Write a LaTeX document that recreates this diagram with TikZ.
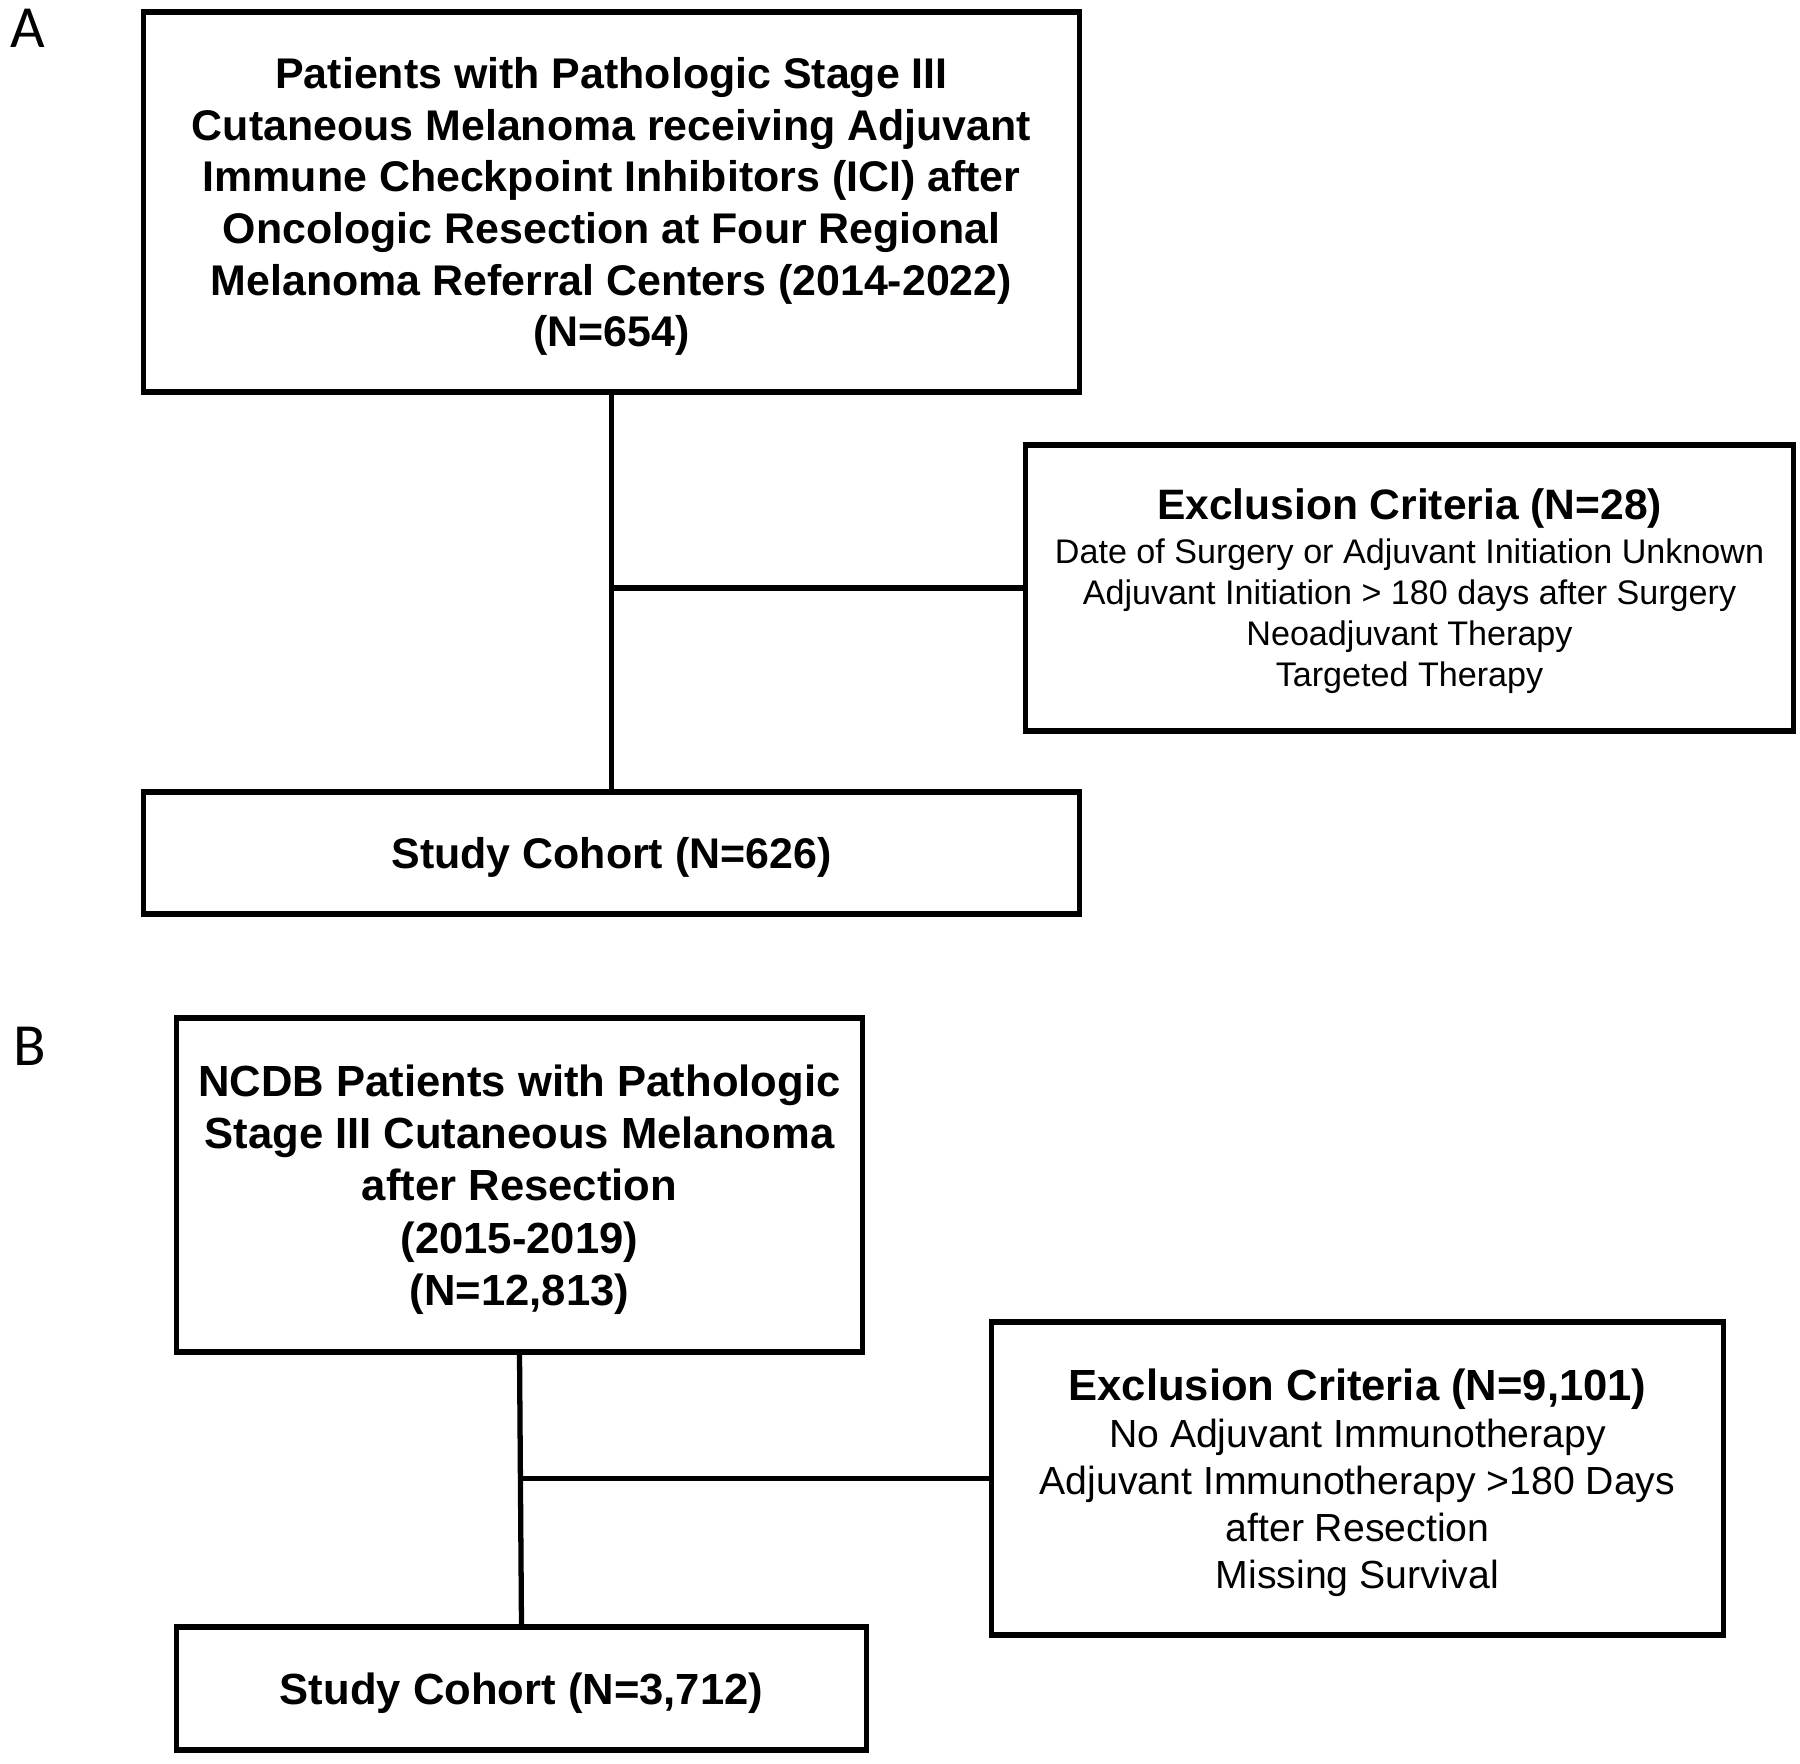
\documentclass[tikz,border=0pt]{standalone}
\usepackage{fontspec}
\setmainfont{Liberation Sans}
\newfontfamily\panelfont{Carlito}
\begin{document}
\begin{tikzpicture}[x=0.01cm,y=-0.01cm,
		box/.style={draw,line width=1.5pt,inner sep=0pt,outer sep=0pt,align=center,text depth=0pt},
		link/.style={line width=1.5pt},
		panel/.style={inner sep=0pt,anchor=base west,font=\panelfont\fontsize{17}{20}\selectfont}]
		\useasboundingbox (0,0) rectangle (1800,1763);
		% panel A
		\node [panel] (labA) at (10,47) {A};
		\node [box,minimum width=9.35cm,minimum height=3.8cm,font=\bfseries\fontsize{12.2}{14.7}\selectfont] (topA) at (611.5,202)
			{Patients with Pathologic Stage III\\Cutaneous Melanoma receiving Adjuvant\\Immune Checkpoint Inhibitors (ICI) after\\Oncologic Resection at Four Regional\\Melanoma Referral Centers (2014-2022)\\(N=654)};
		\node [box,minimum width=7.67cm,minimum height=2.86cm,font=\fontsize{9.7}{11.7}\selectfont] (excA) at (1409.5,588)
			{{\bfseries\fontsize{12.1}{14}\selectfont Exclusion Criteria (N=28)}\\[0.7pt]Date of Surgery or Adjuvant Initiation Unknown\\Adjuvant Initiation > 180 days after Surgery\\Neoadjuvant Therapy\\Targeted Therapy};
		\node [box,minimum width=9.35cm,minimum height=1.22cm,font=\bfseries\fontsize{12.2}{14.7}\selectfont] (studyA) at (611.5,853)
			{Study Cohort (N=626)};
		\coordinate (midA) at (topA.south |- excA.west);
		\draw [link] (topA.south) -- (studyA.north);
		\draw [link] (midA) -- (excA.west);
		% panel B
		\node [panel] (labB) at (13,1065) {B};
		\node [box,minimum width=6.85cm,minimum height=3.34cm,font=\bfseries\fontsize{12.4}{14.9}\selectfont] (topB) at (519.5,1185)
			{NCDB Patients with Pathologic\\Stage III Cutaneous Melanoma\\after Resection\\(2015-2019)\\(N=12,813)};
		\node [box,minimum width=7.31cm,minimum height=3.13cm,font=\fontsize{11.15}{13.4}\selectfont] (excB) at (1357.5,1478.5)
			{{\bfseries\fontsize{12.4}{14}\selectfont Exclusion Criteria (N=9,101)}\\No Adjuvant Immunotherapy\\Adjuvant Immunotherapy >180 Days\\after Resection\\Missing Survival};
		\node [box,minimum width=6.89cm,minimum height=1.23cm,font=\bfseries\fontsize{12.4}{14.9}\selectfont] (studyB) at (521.5,1688.5)
			{Study Cohort (N=3,712)};
		\coordinate (midB) at (topB.south |- excB.west);
		\draw [link] (topB.south) -- (studyB.north);
		\draw [link] (midB) -- (excB.west);
\end{tikzpicture}
\end{document}
